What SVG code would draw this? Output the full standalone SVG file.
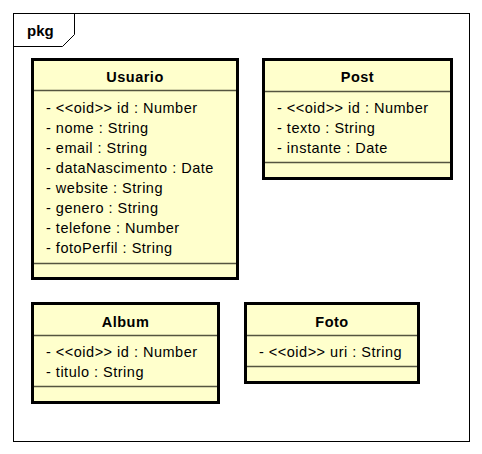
<svg xmlns="http://www.w3.org/2000/svg" width="482" height="454" viewBox="0 0 482 454">
<style>
.frame{fill:none;stroke:#000;stroke-width:1}
.box{fill:#FFFFCC;stroke:#000;stroke-width:3}
.div{stroke:#55553f;stroke-width:1.3;fill:none}
.t{font-family:"Liberation Sans",Arial,sans-serif;font-size:14.5px;fill:#000;letter-spacing:0.5px}
.b{font-weight:bold;text-anchor:middle}
.pkg{font-family:"Liberation Sans",Arial,sans-serif;font-size:15px;font-weight:bold;fill:#000}
</style>
<rect width="482" height="454" fill="#fff"/>
<g id="package">
<rect class="frame" x="13.5" y="13.5" width="456" height="428" fill="#fff"/>
<path class="frame" d="M13.5,46.5 H62.5 L74.5,34.5 V13.5"/>
<text class="pkg" x="27" y="36">pkg</text>
</g>
<g id="Usuario">
<rect class="box" x="32.5" y="59.5" width="205" height="219"/>
<line class="div" x1="34" y1="90.5" x2="236" y2="90.5"/>
<line class="div" x1="34" y1="263.5" x2="236" y2="263.5"/>
<text class="t b" x="135" y="82">Usuario</text>
<text class="t" x="46" y="113">- &lt;&lt;oid&gt;&gt; id : Number</text>
<text class="t" x="46" y="133">- nome : String</text>
<text class="t" x="46" y="153">- email : String</text>
<text class="t" x="46" y="173">- dataNascimento : Date</text>
<text class="t" x="46" y="193">- website : String</text>
<text class="t" x="46" y="213">- genero : String</text>
<text class="t" x="46" y="233">- telefone : Number</text>
<text class="t" x="46" y="253">- fotoPerfil : String</text>
</g>
<g id="Post">
<rect class="box" x="263.5" y="59.5" width="188" height="119"/>
<line class="div" x1="265" y1="91.5" x2="450" y2="91.5"/>
<line class="div" x1="265" y1="162.5" x2="450" y2="162.5"/>
<text class="t b" x="357.5" y="82">Post</text>
<text class="t" x="277" y="113">- &lt;&lt;oid&gt;&gt; id : Number</text>
<text class="t" x="277" y="133">- texto : String</text>
<text class="t" x="277" y="153">- instante : Date</text>
</g>
<g id="Album">
<rect class="box" x="32.5" y="303.5" width="186" height="99"/>
<line class="div" x1="34" y1="335.5" x2="217" y2="335.5"/>
<line class="div" x1="34" y1="386.5" x2="217" y2="386.5"/>
<text class="t b" x="125.5" y="327">Album</text>
<text class="t" x="46" y="357">- &lt;&lt;oid&gt;&gt; id : Number</text>
<text class="t" x="46" y="377">- titulo : String</text>
</g>
<g id="Foto">
<rect class="box" x="245.5" y="303.5" width="173" height="79"/>
<line class="div" x1="247" y1="335.5" x2="417" y2="335.5"/>
<line class="div" x1="247" y1="366.5" x2="417" y2="366.5"/>
<text class="t b" x="332" y="327">Foto</text>
<text class="t" x="259" y="357">- &lt;&lt;oid&gt;&gt; uri : String</text>
</g>
<g id="connectors"></g>
</svg>
